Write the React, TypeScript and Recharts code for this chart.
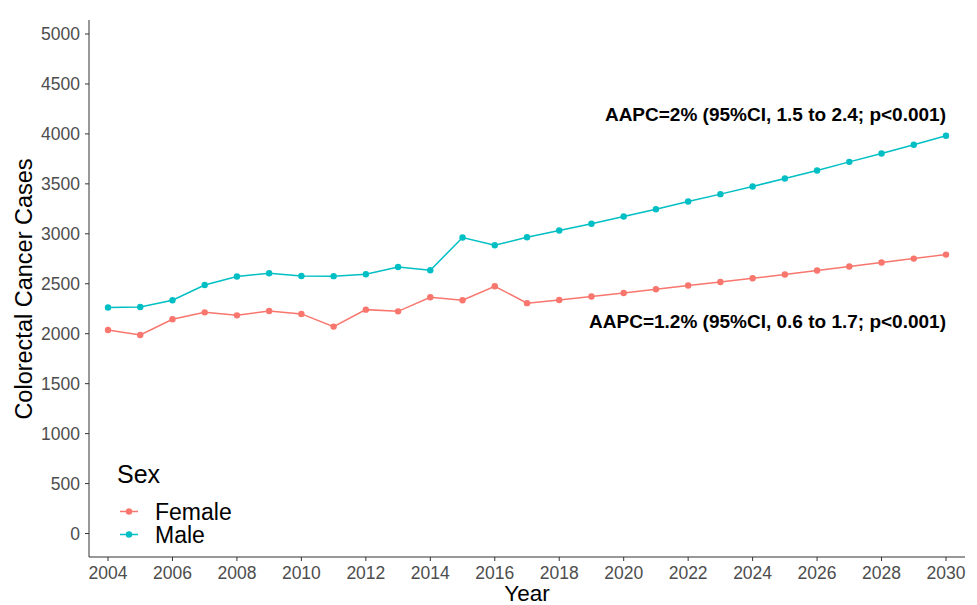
import {
  LineChart,
  Line,
  XAxis,
  YAxis,
  Legend,
  Label,
  ReferenceDot,
} from "recharts";

const years = [
  2004, 2005, 2006, 2007, 2008, 2009, 2010, 2011, 2012, 2013, 2014, 2015, 2016,
  2017, 2018, 2019, 2020, 2021, 2022, 2023, 2024, 2025, 2026, 2027, 2028, 2029,
  2030,
];

const female = [
  2037, 1987, 2144, 2214, 2184, 2228, 2198, 2071, 2241, 2224, 2365, 2335, 2475,
  2306, 2338, 2372, 2408, 2445, 2482, 2518, 2555, 2592, 2632, 2672, 2712, 2752,
  2792,
];

const male = [
  2262, 2268, 2335, 2488, 2572, 2605, 2578, 2576, 2595, 2668, 2635, 2963, 2886,
  2965, 3033, 3100, 3173, 3246, 3323, 3397, 3474, 3554, 3634, 3720, 3804, 3891,
  3981,
];

const xTicks = [
  2004, 2006, 2008, 2010, 2012, 2014, 2016, 2018, 2020, 2022, 2024, 2026, 2028,
  2030,
];
const yTicks = [0, 500, 1000, 1500, 2000, 2500, 3000, 3500, 4000, 4500, 5000];

const maleNote = "AAPC=2% (95%CI, 1.5 to 2.4; p<0.001)";
const femaleNote = "AAPC=1.2% (95%CI, 0.6 to 1.7; p<0.001)";

const FEMALE = "#F8766D";
const MALE = "#00BFC4";
const FONT = '"Liberation Sans", Arial, Helvetica, sans-serif';

const data = years.map((year, i) => ({
  year,
  Female: female[i],
  Male: male[i],
}));

const NoteLabel = ({ viewBox, text }: any) => {
  const x = viewBox.x + (viewBox.width || 0) / 2;
  const y = viewBox.y + (viewBox.height || 0) / 2;
  return (
    <text
      x={x}
      y={y}
      textAnchor="end"
      dominantBaseline="central"
      fontFamily={FONT}
      fontWeight="bold"
      fontSize={19}
      fill="#000"
    >
      {text}
    </text>
  );
};

const SexLegend = () => {
  const items = [
    { name: "Female", color: FEMALE },
    { name: "Male", color: MALE },
  ];
  return (
    <div style={{ fontFamily: FONT, color: "#000" }}>
      <div style={{ fontSize: 25, lineHeight: "30px", marginBottom: 11 }}>Sex</div>
      {items.map((it) => (
        <div
          key={it.name}
          style={{ display: "flex", alignItems: "center", height: 23 }}
        >
          <svg width={30} height={23} style={{ display: "block" }}>
            <line x1={3} y1={11.5} x2={21} y2={11.5} stroke={it.color} strokeWidth={1.5} />
            <circle cx={12} cy={11.5} r={3.2} fill={it.color} />
          </svg>
          <span style={{ fontSize: 23, lineHeight: "20px", marginLeft: 8 }}>
            {it.name}
          </span>
        </div>
      ))}
    </div>
  );
};

export default function App() {
  return (
    <div
      style={{
        position: "absolute",
        left: 0,
        top: 0,
        width: 977,
        height: 605,
        background: "#fff",
      }}
    >
      <LineChart
        width={977}
        height={605}
        data={data}
        margin={{ top: 20, right: 12, bottom: 18, left: 0 }}
      >
        <XAxis
          dataKey="year"
          type="number"
          domain={[2004, 2030]}
          ticks={xTicks}
          padding={{ left: 19, right: 19 }}
          height={30}
          tickSize={4}
          tickMargin={6}
          stroke="#333"
          tick={{ fill: "#4D4D4D", fontSize: 17.5, fontFamily: FONT }}
          label={
            <Label
              content={() => (
                <text
                  x={527}
                  y={593}
                  textAnchor="middle"
                  dominantBaseline="central"
                  fontFamily={FONT}
                  fontSize={22.5}
                  fill="#000"
                >
                  Year
                </text>
              )}
            />
          }
        />
        <YAxis
          type="number"
          domain={[-235, 5140]}
          ticks={yTicks}
          width={89}
          tickSize={4}
          tickMargin={5}
          stroke="#333"
          allowDataOverflow
          tick={{ fill: "#4D4D4D", fontSize: 17.5, fontFamily: FONT }}
          label={
            <Label
              content={() => (
                <text
                  x={24}
                  y={289}
                  transform="rotate(-90 24 289)"
                  textAnchor="middle"
                  dominantBaseline="central"
                  fontFamily={FONT}
                  fontSize={23.5}
                  fill="#000"
                >
                  Colorectal Cancer Cases
                </text>
              )}
            />
          }
        />
        <Legend
          layout="vertical"
          align="center"
          verticalAlign="middle"
          content={<SexLegend />}
          wrapperStyle={{ left: 117, top: 459, width: 150 }}
        />
        <Line
          dataKey="Female"
          stroke={FEMALE}
          strokeWidth={1.5}
          dot={{ r: 3.2, fill: FEMALE, stroke: FEMALE, strokeWidth: 0 }}
          activeDot={false}
          isAnimationActive={false}
        />
        <Line
          dataKey="Male"
          stroke={MALE}
          strokeWidth={1.5}
          dot={{ r: 3.2, fill: MALE, stroke: MALE, strokeWidth: 0 }}
          activeDot={false}
          isAnimationActive={false}
        />
        <ReferenceDot
          x={2030}
          y={4199}
          r={0}
          fill="none"
          stroke="none"
          label={<NoteLabel text={maleNote} />}
        />
        <ReferenceDot
          x={2030}
          y={2127}
          r={0}
          fill="none"
          stroke="none"
          label={<NoteLabel text={femaleNote} />}
        />
      </LineChart>
    </div>
  );
}
